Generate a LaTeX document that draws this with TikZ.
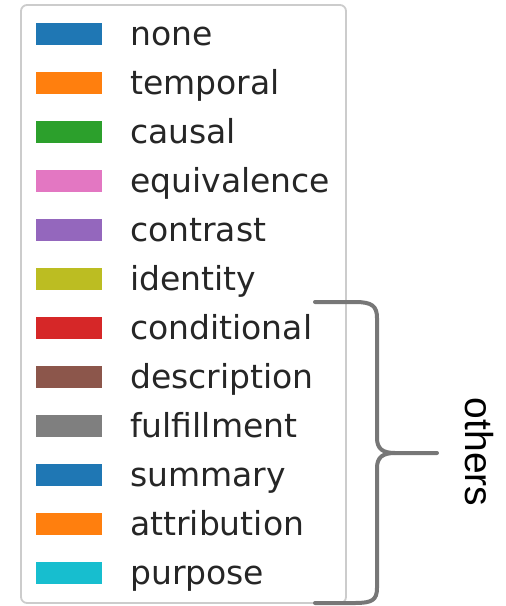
\documentclass[tikz,border=0pt]{standalone}
\usepackage{fontspec}
\setmainfont{DejaVu Sans}
\newfontfamily\otherfont{Liberation Sans}
\definecolor{cnone}{HTML}{1F77B4}
\definecolor{ctemporal}{HTML}{FF7F0E}
\definecolor{ccausal}{HTML}{2CA02C}
\definecolor{cequiv}{HTML}{E377C2}
\definecolor{ccontrast}{HTML}{9467BD}
\definecolor{cidentity}{HTML}{BCBD22}
\definecolor{ccond}{HTML}{D62728}
\definecolor{cdesc}{HTML}{8C564B}
\definecolor{cfulfil}{HTML}{7F7F7F}
\definecolor{cpurpose}{HTML}{17BECF}
\definecolor{bordergray}{HTML}{CCCCCC}
\definecolor{bracegray}{HTML}{777777}
\tikzset{
  swatch/.style={fill=#1, draw=none, minimum width=66pt, minimum height=22pt, inner sep=0pt, anchor=west},
  label/.style={anchor=mid west, inner sep=0pt, font=\fontsize{33}{40}\selectfont, text=black!85},
  legendbox/.style={draw=bordergray, line width=1.8pt, rounded corners=6pt, fill=white},
  bracestyle/.style={draw=bracegray, line width=4pt, line cap=round, line join=round}
}
\begin{document}
\begin{tikzpicture}[x=1pt,y=-1pt]
\useasboundingbox (0,0) rectangle (506,606);
\draw[legendbox] (21,5) rectangle (346,603);
\foreach \c/\t [count=\i from 0] in {cnone/none, ctemporal/temporal, ccausal/causal, cequiv/equivalence, ccontrast/contrast, cidentity/identity, ccond/conditional, cdesc/description, cfulfil/fulfillment, cnone/summary, ctemporal/attribution, cpurpose/purpose}{
  \node[swatch=\c] (sw\i) at (36,{33.5+49*\i}) {};
  \node[label] (lb\i) at (130,{43+49*\i}) {\t};
}
\coordinate (btop) at (315,302);
\coordinate (bbot) at (315,603);
\coordinate (btip) at (437,453);
\draw[bracestyle] (btop) -- (355,302) .. controls (372,302) and (377,306) .. (377,318)
  -- (377,438) .. controls (377,449) and (383,453) .. (395,453) -- (btip);
\draw[bracestyle] (395,453) .. controls (383,453) and (377,457) .. (377,468)
  -- (377,588) .. controls (377,600) and (372,603) .. (355,603) -- (bbot);
\node[font=\otherfont\fontsize{39}{44}\selectfont, rotate=-90, inner sep=0pt] (others) at (479,452) {others};
\end{tikzpicture}
\end{document}
